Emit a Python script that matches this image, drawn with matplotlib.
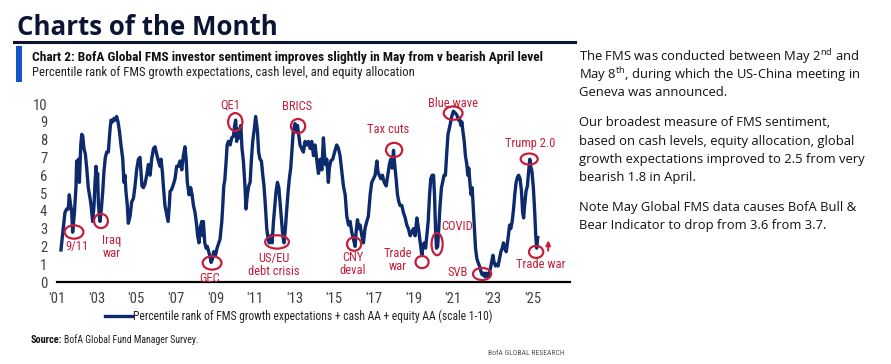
import matplotlib.pyplot as plt
from matplotlib import font_manager as fm
from matplotlib.patches import Ellipse

# pick a narrow face if one is installed, otherwise Lato
narrow = 'Lato'
for f in fm.fontManager.ttflist:
	if f.name in ('Liberation Sans Narrow', 'Roboto Condensed', 'Open Sans Condensed', 'Noto Sans Condensed'):
		narrow = f.name
		break
plt.rcParams['font.family'] = [narrow, 'DejaVu Sans']

NAVY = '#0d2a6c'
RED = '#c41e3a'

# FMS sentiment (scale 1-10)
years = [
	2001.20, 2001.40, 2001.49, 2001.57, 2001.62, 2001.69, 2001.74, 2001.79, 2001.88, 2001.96,
	2001.99, 2002.04, 2002.09, 2002.13, 2002.20, 2002.25, 2002.30, 2002.36, 2002.43, 2002.50,
	2002.58, 2002.67, 2002.72, 2002.80, 2002.87, 2002.92, 2002.97, 2003.00, 2003.05, 2003.09,
	2003.14, 2003.17, 2003.24, 2003.31, 2003.37, 2003.44, 2003.51, 2003.59, 2003.68, 2003.73,
	2003.81, 2003.88, 2003.95, 2004.01, 2004.08, 2004.15, 2004.23, 2004.32, 2004.38, 2004.43,
	2004.48, 2004.55, 2004.60, 2004.69, 2004.77, 2004.86, 2004.94, 2005.02, 2005.11, 2005.19,
	2005.24, 2005.29, 2005.36, 2005.44, 2005.53, 2005.61, 2005.70, 2005.78, 2005.87, 2005.95,
	2006.03, 2006.12, 2006.20, 2006.25, 2006.32, 2006.37, 2006.45, 2006.54, 2006.61, 2006.67,
	2006.71, 2006.79, 2006.88, 2006.96, 2007.04, 2007.13, 2007.21, 2007.30, 2007.38, 2007.46,
	2007.52, 2007.58, 2007.67, 2007.75, 2007.82, 2007.89, 2007.97, 2008.05, 2008.10, 2008.17,
	2008.22, 2008.31, 2008.36, 2008.39, 2008.46, 2008.53, 2008.59, 2008.66, 2008.73, 2008.78,
	2008.85, 2008.91, 2009.00, 2009.08, 2009.17, 2009.23, 2009.32, 2009.37, 2009.42, 2009.47,
	2009.54, 2009.59, 2009.65, 2009.74, 2009.82, 2009.91, 2009.97, 2010.02, 2010.07, 2010.14,
	2010.21, 2010.28, 2010.34, 2010.41, 2010.49, 2010.54, 2010.61, 2010.68, 2010.75, 2010.81,
	2010.88, 2010.95, 2011.03, 2011.12, 2011.18, 2011.25, 2011.32, 2011.39, 2011.45, 2011.52,
	2011.59, 2011.66, 2011.72, 2011.79, 2011.86, 2011.93, 2012.00, 2012.06, 2012.13, 2012.20,
	2012.26, 2012.33, 2012.40, 2012.46, 2012.53, 2012.60, 2012.67, 2012.73, 2012.80, 2012.87,
	2012.93, 2013.02, 2013.07, 2013.14, 2013.20, 2013.27, 2013.35, 2013.44, 2013.52, 2013.61,
	2013.69, 2013.78, 2013.86, 2013.95, 2014.03, 2014.12, 2014.20, 2014.29, 2014.37, 2014.45,
	2014.54, 2014.62, 2014.70, 2014.75, 2014.82, 2014.92, 2015.04, 2015.12, 2015.21, 2015.29,
	2015.38, 2015.46, 2015.55, 2015.63, 2015.72, 2015.80, 2015.88, 2015.97, 2016.05, 2016.10,
	2016.17, 2016.24, 2016.30, 2016.39, 2016.47, 2016.55, 2016.64, 2016.72, 2016.81, 2016.89,
	2016.98, 2017.06, 2017.15, 2017.20, 2017.27, 2017.35, 2017.43, 2017.52, 2017.62, 2017.70,
	2017.78, 2017.85, 2017.92, 2017.99, 2018.05, 2018.12, 2018.19, 2018.26, 2018.32, 2018.41,
	2018.49, 2018.58, 2018.66, 2018.74, 2018.83, 2018.91, 2019.00, 2019.08, 2019.17, 2019.25,
	2019.34, 2019.42, 2019.47, 2019.54, 2019.61, 2019.67, 2019.74, 2019.81, 2019.87, 2019.94,
	2020.01, 2020.06, 2020.11, 2020.16, 2020.22, 2020.27, 2020.34, 2020.41, 2020.47, 2020.54,
	2020.61, 2020.68, 2020.74, 2020.84, 2020.93, 2021.01, 2021.10, 2021.18, 2021.27, 2021.32,
	2021.39, 2021.44, 2021.49, 2021.56, 2021.62, 2021.69, 2021.74, 2021.79, 2021.86, 2021.91,
	2021.96, 2022.01, 2022.08, 2022.13, 2022.20, 2022.26, 2022.33, 2022.40, 2022.47, 2022.53,
	2022.60, 2022.67, 2022.74, 2022.80, 2022.87, 2022.94, 2023.01, 2023.07, 2023.14, 2023.21,
	2023.27, 2023.34, 2023.41, 2023.48, 2023.54, 2023.61, 2023.68, 2023.74, 2023.79, 2023.85,
	2023.91, 2023.98, 2024.05, 2024.11, 2024.18, 2024.25, 2024.31, 2024.38, 2024.45, 2024.51,
	2024.56, 2024.61, 2024.68, 2024.75, 2024.81, 2024.87, 2024.92, 2024.98, 2025.05, 2025.12,
	2025.17, 2025.22, 2025.27,
]
sentiment = [
	1.8, 3.9, 4.1, 4.1, 4.9, 4.3, 4.0, 2.8, 3.9, 5.4,
	6.8, 6.2, 6.9, 5.6, 7.7, 8.3, 8.2, 7.5, 7.2, 6.4,
	5.3, 4.7, 4.3, 3.4, 4.3, 5.6, 6.5, 5.4, 6.1, 4.4,
	3.7, 3.4, 4.1, 5.1, 6.2, 7.0, 7.3, 7.3, 8.6, 9.1,
	9.0, 9.2, 9.1, 9.3, 9.0, 8.5, 7.7, 6.9, 5.6, 6.0,
	5.1, 4.3, 3.3, 3.7, 4.5, 4.7, 5.4, 6.3, 6.9, 7.0,
	6.2, 5.4, 5.3, 5.5, 6.0, 6.6, 6.0, 6.9, 7.5, 7.6,
	7.2, 6.8, 6.5, 6.9, 6.2, 5.4, 4.3, 3.8, 3.4, 4.3,
	5.1, 5.2, 5.5, 5.8, 6.5, 6.5, 6.8, 6.3, 7.1, 7.6,
	6.9, 5.6, 4.9, 5.3, 4.9, 4.3, 3.9, 3.2, 2.6, 2.2,
	3.0, 3.4, 2.6, 3.4, 2.2, 1.9, 2.0, 1.7, 1.4, 1.1,
	1.3, 1.7, 1.5, 1.9, 2.2, 2.4, 3.4, 4.3, 5.4, 5.7,
	6.8, 7.7, 7.9, 7.7, 8.1, 8.2, 8.8, 9.1, 7.9, 8.6,
	8.1, 8.8, 7.5, 6.8, 5.4, 4.1, 4.9, 5.4, 5.6, 6.8,
	7.9, 8.5, 9.3, 8.5, 7.3, 6.9, 6.8, 6.0, 5.4, 4.3,
	3.0, 2.4, 2.2, 2.6, 2.2, 3.4, 4.3, 5.1, 5.6, 5.3,
	4.5, 3.6, 2.6, 2.2, 3.0, 4.1, 5.1, 5.8, 6.4, 7.5,
	8.5, 8.9, 8.5, 8.8, 8.3, 7.7, 7.5, 7.3, 7.9, 7.7,
	7.9, 7.5, 7.9, 7.1, 7.7, 6.8, 6.1, 6.9, 6.3, 8.1,
	6.6, 6.9, 5.6, 6.4, 6.8, 6.9, 7.4, 7.7, 7.5, 7.1,
	6.2, 5.4, 4.9, 3.7, 3.2, 3.4, 2.8, 2.4, 2.0, 2.8,
	3.5, 3.0, 3.2, 2.6, 2.2, 3.0, 3.4, 3.7, 4.9, 5.6,
	5.8, 6.0, 6.8, 6.2, 6.0, 5.8, 6.0, 5.6, 5.4, 6.0,
	6.6, 6.9, 6.4, 7.4, 6.6, 5.8, 4.9, 4.5, 4.3, 4.3,
	3.9, 3.6, 3.2, 3.0, 2.6, 2.8, 3.0, 2.6, 3.6, 3.0,
	2.2, 1.5, 2.0, 2.2, 1.9, 2.6, 3.4, 4.9, 5.8, 6.0,
	6.0, 4.9, 3.0, 1.9, 2.0, 3.0, 4.3, 5.3, 5.6, 6.0,
	6.0, 7.3, 8.3, 8.8, 9.3, 9.6, 9.5, 9.4, 9.1, 9.2,
	8.8, 9.0, 8.5, 7.9, 7.1, 6.6, 6.0, 6.4, 5.4, 4.9,
	5.3, 4.3, 3.0, 1.9, 1.3, 1.1, 0.9, 0.6, 0.4, 0.5,
	0.3, 0.5, 0.3, 0.4, 0.7, 1.1, 1.5, 1.1, 0.9, 1.0,
	0.9, 1.3, 1.7, 1.9, 2.2, 1.9, 1.7, 2.2, 2.6, 3.2,
	3.0, 3.4, 4.1, 4.9, 5.6, 5.9, 6.0, 5.8, 5.1, 3.9,
	3.6, 4.3, 5.1, 5.4, 6.2, 6.9, 6.5, 6.2, 5.3, 3.9,
	2.6, 1.9, 2.5,
]

tick_years = list(range(2001, 2026, 2))
tick_labels = ["'01", "'03", "'05", "'07", "'09", "'11", "'13",
			   "'15", "'17", "'19", "'21", "'23", "'25"]

# event: label, circle centre x/y, circle w/h, label x/y
events = [
	('9/11', 2001.86, 2.81, 0.95, 0.75, 2002.0, 2.0),
	('Iraq\nwar', 2003.22, 3.43, 0.7, 0.8, 2003.75, 1.95),
	('GEC', 2008.83, 1.07, 0.95, 0.75, 2008.68, 0.2),
	('QE1', 2010.0, 8.99, 0.72, 1.0, 2009.75, 9.95),
	('US/EU\ndebt crisis', 2012.11, 2.25, 1.2, 0.75, 2011.95, 0.95),
	('BRICS', 2013.17, 8.76, 0.72, 0.8, 2013.1, 9.85),
	('CNY\ndeval', 2016.0, 2.13, 0.72, 0.75, 2015.95, 1.0),
	('Tax cuts', 2018.02, 7.42, 0.82, 0.8, 2017.7, 8.55),
	('Trade\nwar', 2019.43, 1.12, 0.66, 0.68, 2018.22, 1.25),
	('COVID', 2020.19, 2.13, 0.56, 1.25, 2021.2, 3.1),
	('Blue wave', 2021.0, 9.49, 0.95, 0.75, 2021.0, 10.05),
	('SVB', 2022.46, 0.45, 0.92, 0.68, 2021.25, 0.55),
	('Trump 2.0', 2024.84, 6.91, 0.86, 0.62, 2024.9, 7.8),
	('Trade war', 2025.19, 1.69, 0.72, 0.68, 2025.4, 1.0),
]

side_lines = [
	'The FMS was conducted between May 2$^{\\mathregular{nd}}$ and',
	'May 8$^{\\mathregular{th}}$, during which the US-China meeting in',
	'Geneva was announced.',
	'Our broadest measure of FMS sentiment,',
	'based on cash levels, equity allocation, global',
	'growth expectations improved to 2.5 from very',
	'bearish 1.8 in April.',
	'Note May Global FMS data causes BofA Bull &',
	'Bear Indicator to drop from 3.6 from 3.7.',
]
side_y = [57, 75, 93, 123, 142, 160, 177, 208, 226]

fig = plt.figure(figsize=(8.91, 3.64), dpi=100)
renderer = fig.canvas.get_renderer()


def px(x, y):
	return x / 891, 1 - y / 364


def fit(t, width):
	# scale the font so the text spans `width` pixels
	w = t.get_window_extent(renderer).width
	t.set_fontsize(t.get_fontsize() * width / w)
	return t.get_fontsize()


# header
t = fig.text(*px(17, 35), 'Charts of the Month', fontsize=19, fontweight='bold',
			 family=['Open Sans', 'DejaVu Sans'], color='#0b1533', va='baseline')
fit(t, 260)
fig.add_artist(plt.Line2D([14/891, 575/891], [1 - 42/364, 1 - 42/364], color='#0b1533', lw=2.2))
fig.add_artist(plt.Rectangle(px(16, 82), 6/891, 36/364, color='#1652c4', lw=0))
t = fig.text(*px(32, 61), 'Chart 2: BofA Global FMS investor sentiment improves slightly in May from v bearish April level',
			 fontsize=9, fontweight='bold', color='#111111', va='baseline')
fit(t, 514)
t = fig.text(*px(32, 76), 'Percentile rank of FMS growth expectations, cash level, and equity allocation',
			 fontsize=9, color='#222222', va='baseline')
fit(t, 382)

ax = fig.add_axes([57/891, 1 - 282/364, 513/891, (282 - 98.7)/364])
ax.plot(years, sentiment, color=NAVY, lw=2.4, solid_joinstyle='round')
ax.set_xlim(2001, 2026.9)
ax.set_ylim(0, 10.3)
ax.set_xticks(tick_years)
ax.set_xticklabels(tick_labels)
ax.set_yticks(range(0, 11))
ax.tick_params(length=0, labelsize=10.5, colors='#404040')
ax.tick_params(axis='x', pad=7)
ax.tick_params(axis='y', pad=7)
for s in ['top', 'right', 'left']:
	ax.spines[s].set_visible(False)
ax.spines['bottom'].set_linewidth(1.6)
ax.spines['bottom'].set_color('black')

probe = ax.text(0, 0, 'Blue wave', fontsize=9)
label_size = fit(probe, 50)
probe.remove()

for name, cx, cy, w, h, tx, ty in events:
	ax.add_patch(Ellipse((cx, cy), w, h, fill=False, edgecolor=RED, lw=1.6, clip_on=False, zorder=3))
	ax.text(tx, ty, name, color=RED, fontsize=label_size, ha='center', va='center',
			linespacing=1.0, clip_on=False)

ax.annotate('', xy=(2025.8, 2.5), xytext=(2025.8, 1.6),
			arrowprops=dict(arrowstyle='-|>', color=RED, lw=1.4, mutation_scale=7))

# legend drawn by hand under the axis
fig.add_artist(plt.Line2D([105/891, 132/891], [1 - 316/364, 1 - 316/364], color=NAVY, lw=2.4))
t = fig.text(*px(133, 316), 'Percentile rank of FMS growth expectations + cash AA + equity AA (scale 1-10)',
			 fontsize=8.5, color='#222222', va='center')
fit(t, 361)

t = fig.text(*px(31, 340), 'Source:', fontsize=7.5, fontweight='bold', color='#111111', va='center')
fit(t, 31)
src_end = t.get_window_extent(renderer).x1
t2 = fig.text((src_end + 2) / 891, 1 - 340/364, 'BofA Global Fund Manager Survey.', fontsize=7.5,
			  color='#222222', va='center')
fit(t2, 134)
t = fig.text(*px(565, 353), 'BofA GLOBAL RESEARCH', fontsize=7.5, color='#555555', ha='right', va='center')
fit(t, 76)

# commentary on the right
probe = fig.text(0, 0, 'growth expectations improved to 2.5 from very', fontsize=9,
				 family=['Open Sans', 'DejaVu Sans'])
side_size = fit(probe, 287)
probe.remove()
for y, line in zip(side_y, side_lines):
	fig.text(*px(579, y), line, fontsize=side_size, family=['Open Sans', 'DejaVu Sans'],
			 color='#111111', va='center')

fig.savefig('out.png', dpi=100)
